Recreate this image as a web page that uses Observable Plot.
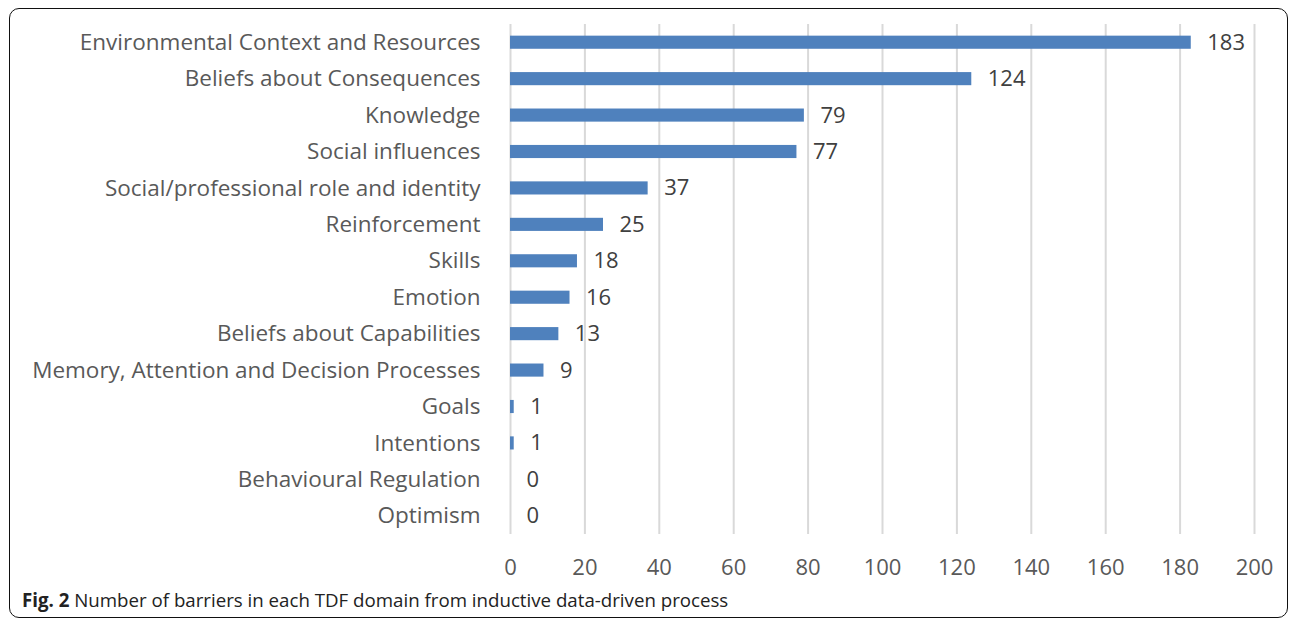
<!DOCTYPE html>
<html><head><meta charset="utf-8">
<script src="https://cdn.jsdelivr.net/npm/d3@7"></script>
<script src="https://cdn.jsdelivr.net/npm/@observablehq/plot@0.6"></script>
<style>
body{margin:0;background:#fff;font-family:"Open Sans",sans-serif;}
#frame{position:absolute;left:9px;top:8px;width:1279px;height:610px;border:1.5px solid #111;border-radius:10px;box-sizing:border-box;}
#chart{position:absolute;left:0;top:0;}
#cap{position:absolute;left:22px;top:587px;font-size:18.7px;color:#222;font-family:"Open Sans",sans-serif;white-space:nowrap;}
</style></head><body>
<div id="frame"></div>
<div id="chart"></div>
<div id="cap"><b>Fig. 2</b> Number of barriers in each TDF domain from inductive data-driven process</div>
<script>
const domains = ["Environmental Context and Resources","Beliefs about Consequences","Knowledge","Social influences","Social/professional role and identity","Reinforcement","Skills","Emotion","Beliefs about Capabilities","Memory, Attention and Decision Processes","Goals","Intentions","Behavioural Regulation","Optimism"];
const counts = [183,124,79,77,37,25,18,16,13,9,1,1,0,0];
const xTicks = [0,20,40,60,80,100,120,140,160,180,200];
const data = domains.map((d,i)=>({domain:d,count:counts[i]}));
const chart = Plot.plot({
  width:1292, height:580,
  marginLeft:510, marginRight:38, marginTop:24, marginBottom:46,
  style:{fontFamily:"Open Sans, sans-serif", background:"transparent"},
  x:{domain:[0,200], ticks:xTicks, label:null},
  y:{domain:domains, label:null, paddingInner:0.64, paddingOuter:0.32, round:false},
  marks:[
    Plot.gridX(xTicks,{stroke:"#d9d9d9", strokeWidth:2, strokeOpacity:1}),
    Plot.barX(data,{x:"count", y:"domain", fill:"#4f81bd"}),
    Plot.text(data,{x:"count", y:"domain", text:d=>String(d.count), textAnchor:"start", dx:16, fontSize:22, fill:"#404040"}),
    Plot.axisX({ticks:xTicks, tickSize:0, tickPadding:25, fontSize:22, color:"#595959", label:null}),
    Plot.axisY({tickSize:0, tickPadding:30, fontSize:22.5, color:"#595959", label:null})
  ]
});
document.getElementById("chart").appendChild(chart);
</script>
</body></html>
